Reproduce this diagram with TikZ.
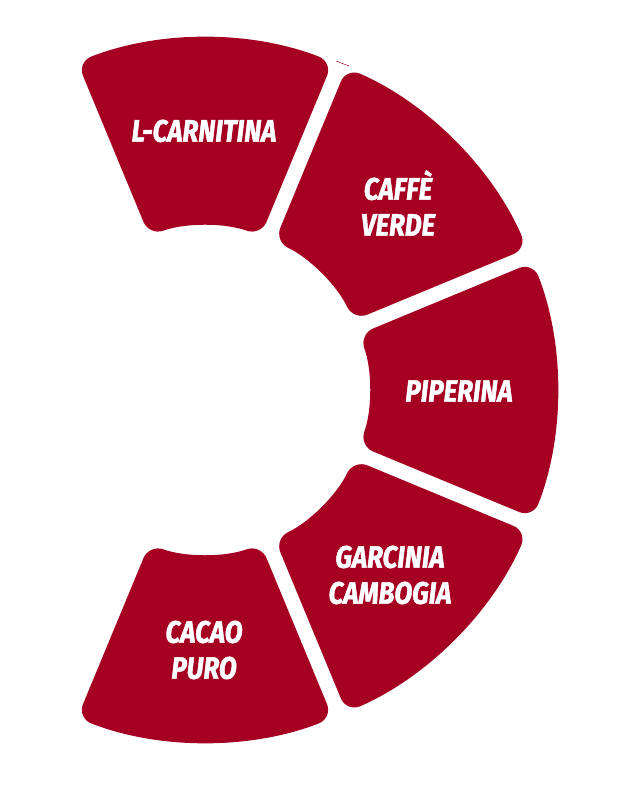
\documentclass[tikz,border=0pt]{standalone}
\usepackage{fontspec}
\usepackage{tikz}
\newfontfamily\labelfont[FakeStretch=0.84,FakeBold=1.6]{Fira Sans}
\definecolor{rosso}{RGB}{165,0,34}
\tikzset{etichetta/.style={text=white,font=\labelfont\bfseries\itshape\fontsize{31}{36}\selectfont,align=center}}
\newcommand{\settore}[1]{%
\pgfmathsetmacro{\aa}{#1+22.5-asin(7.5/352)}
\pgfmathsetmacro{\ab}{#1-22.5+asin(7.5/352)}
\pgfmathsetmacro{\ba}{#1+22.5-asin(7.5/164)}
\pgfmathsetmacro{\bb}{#1-22.5+asin(7.5/164)}
\fill [rosso, rounded corners=15pt] ([shift={(\aa:352pt)}]c) arc [start angle=\aa, end angle=\ab, radius=352pt]
 -- ([shift={(\bb:164pt)}]c) arc [start angle=\bb, end angle=\ba, radius=164pt] -- cycle;
}

\begin{document}
\begin{tikzpicture}[x=1pt,y=1pt]
\useasboundingbox (0,0) rectangle (630,803);
\coordinate (c) at (205,413);

\settore{90}
\settore{45}
\settore{0}
\settore{-45}
\settore{-90}

\coordinate (s1) at (336,742);
\coordinate (s2) at (349,737);
\draw [rosso, line width=0.5pt] (s1) -- (s2);

\node [etichetta] (carnitina) at (204,672) {L-CARNITINA};
\node [etichetta] (caffe) at (398,600) {CAFFÈ\\VERDE};
\node [etichetta] (piperina) at (459,412) {PIPERINA};
\node [etichetta] (garcinia) at (390,228) {GARCINIA\\CAMBOGIA};
\node [etichetta] (cacao) at (204,153) {CACAO\\PURO};
\end{tikzpicture}
\end{document}
